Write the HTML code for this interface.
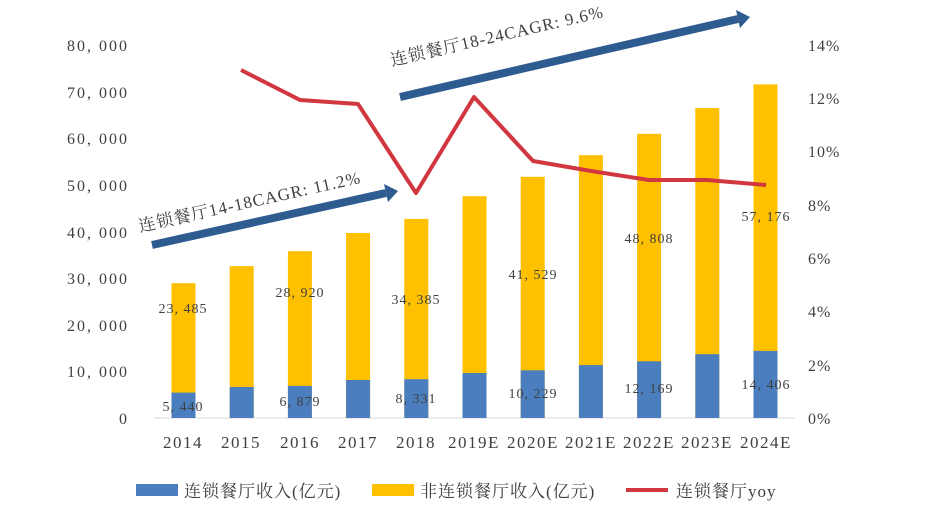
<!DOCTYPE html>
<html><head><meta charset="utf-8"><style>
body{margin:0;background:#fff}
svg text{font-family:"Liberation Serif","Noto Serif CJK SC",serif;fill:#404040}
</style></head><body>
<svg width="932" height="501" xmlns="http://www.w3.org/2000/svg">
<g font-size="16" text-anchor="end" letter-spacing="2">
<text x="129" y="51">80, 000</text><text x="129" y="98">70, 000</text><text x="129" y="144">60, 000</text><text x="129" y="191">50, 000</text><text x="129" y="238">40, 000</text><text x="129" y="284">30, 000</text><text x="129" y="331">20, 000</text><text x="129" y="377">10, 000</text><text x="129" y="424">0</text>
</g>
<g font-size="16" text-anchor="start" letter-spacing="1">
<text x="808" y="51">14%</text><text x="808" y="104">12%</text><text x="808" y="157">10%</text><text x="808" y="211">8%</text><text x="808" y="264">6%</text><text x="808" y="317">4%</text><text x="808" y="371">2%</text><text x="808" y="424">0%</text>
</g>
<line x1="154" y1="418" x2="795" y2="418" stroke="#d9d9d9" stroke-width="1"/>
<g fill="#FFC000">
<rect x="171.5" y="283.2" width="24" height="134.8"/>
<rect x="229.7" y="266.1" width="24" height="151.9"/>
<rect x="287.9" y="251.2" width="24" height="166.8"/>
<rect x="346.1" y="233.0" width="24" height="185.0"/>
<rect x="404.3" y="218.9" width="24" height="199.1"/>
<rect x="462.5" y="196.2" width="24" height="221.8"/>
<rect x="520.7" y="176.8" width="24" height="241.2"/>
<rect x="578.9" y="155.2" width="24" height="262.8"/>
<rect x="637.1" y="133.8" width="24" height="284.2"/>
<rect x="695.3" y="108.1" width="24" height="309.9"/>
<rect x="753.5" y="84.4" width="24" height="333.6"/>
</g>
<g fill="#4A7EBF">
<rect x="171.5" y="392.6" width="24" height="25.4"/>
<rect x="229.7" y="387.0" width="24" height="31.0"/>
<rect x="287.9" y="385.9" width="24" height="32.1"/>
<rect x="346.1" y="380.0" width="24" height="38.0"/>
<rect x="404.3" y="379.2" width="24" height="38.8"/>
<rect x="462.5" y="373.0" width="24" height="45.0"/>
<rect x="520.7" y="370.3" width="24" height="47.7"/>
<rect x="578.9" y="365.1" width="24" height="52.9"/>
<rect x="637.1" y="361.3" width="24" height="56.7"/>
<rect x="695.3" y="354.2" width="24" height="63.8"/>
<rect x="753.5" y="350.9" width="24" height="67.1"/>
</g>
<g font-size="14" text-anchor="middle" letter-spacing="1">
<text x="183" y="313">23, 485</text><text x="183" y="411">5, 440</text>
<text x="300" y="297">28, 920</text><text x="300" y="406">6, 879</text>
<text x="416" y="304">34, 385</text><text x="416" y="403">8, 331</text>
<text x="533" y="279">41, 529</text><text x="533" y="398">10, 229</text>
<text x="649" y="243">48, 808</text><text x="649" y="393">12, 169</text>
<text x="766" y="221">57, 176</text><text x="766" y="389">14, 406</text>
</g>
<g font-size="17" text-anchor="middle" letter-spacing="1.5">
<text x="183" y="448">2014</text><text x="241" y="448">2015</text><text x="300" y="448">2016</text><text x="358" y="448">2017</text><text x="416" y="448">2018</text><text x="474" y="448">2019E</text><text x="533" y="448">2020E</text><text x="591" y="448">2021E</text><text x="649" y="448">2022E</text><text x="707" y="448">2023E</text><text x="766" y="448">2024E</text>
</g>
<polyline points="241,70 300,100 358,104 416,193 474,97 533,161 591,171 649,180 707,180 766,185" fill="none" stroke="#D0373F" stroke-width="4" stroke-linejoin="round"/>
<line x1="152" y1="245" x2="386" y2="193" stroke="#2E5C91" stroke-width="8"/>
<polygon points="384,184 398,191 388,202" fill="#2E5C91"/>
<line x1="400" y1="97" x2="738" y2="19" stroke="#2E5C91" stroke-width="8"/>
<polygon points="736,10 750,17 740,28" fill="#2E5C91"/>
<text x="140" y="232" font-size="17" letter-spacing="1" transform="rotate(-12.5 140 232)" fill="#222">连锁餐厅14-18CAGR: 11.2%</text>
<text x="392" y="66" font-size="17" letter-spacing="1" transform="rotate(-13 392 66)" fill="#222">连锁餐厅18-24CAGR: 9.6%</text>
<g font-size="17" letter-spacing="1">
<rect x="136" y="484" width="42" height="12" fill="#4A7EBF"/><text x="184" y="497">连锁餐厅收入(亿元)</text>
<rect x="372" y="484" width="42" height="12" fill="#FFC000"/><text x="420" y="497">非连锁餐厅收入(亿元)</text>
<line x1="626" y1="490" x2="668" y2="490" stroke="#D0373F" stroke-width="4"/><text x="676" y="497">连锁餐厅yoy</text>
</g>
</svg>
</body></html>
